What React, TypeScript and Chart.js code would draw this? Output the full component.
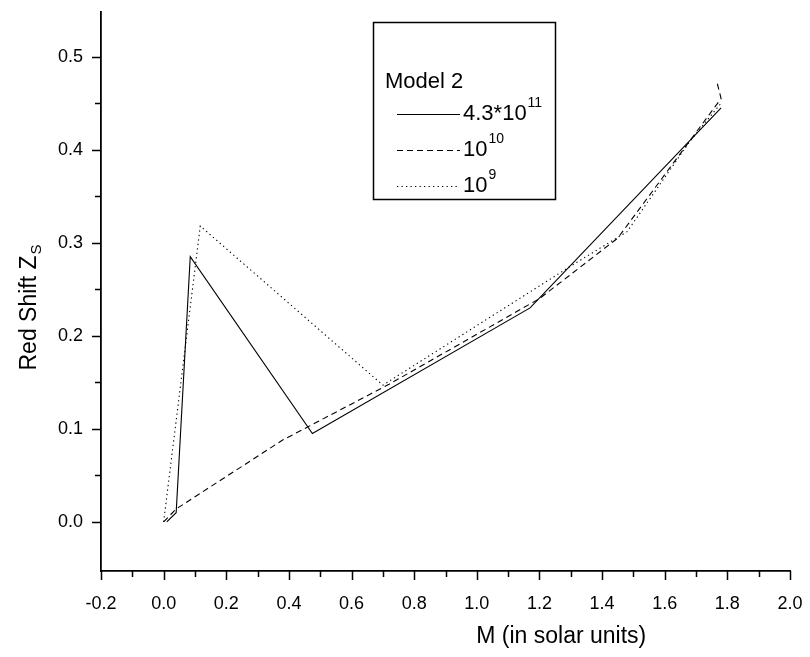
import React, { useEffect, useRef } from "react";
import { Chart, registerables } from "chart.js";

Chart.register(...registerables);

// Mass (solar units) against surface red shift for three central densities
const solidX = [0.01, 0.04, 0.085, 0.475, 1.17, 1.78];
const solidY = [0.0, 0.01, 0.285, 0.095, 0.23, 0.445];

const dashedX = [0.0, 0.04, 0.38, 0.72, 1.2, 1.45, 1.78, 1.765];
const dashedY = [0.0, 0.014, 0.088, 0.148, 0.24, 0.305, 0.455, 0.475];

const dottedX = [0.0, 0.117, 0.7, 1.3, 1.48, 1.68, 1.78];
const dottedY = [0.0, 0.318, 0.147, 0.275, 0.312, 0.409, 0.45];

const xTicks = [-0.2, 0.0, 0.2, 0.4, 0.6, 0.8, 1.0, 1.2, 1.4, 1.6, 1.8, 2.0];
const xMinorTicks = [-0.1, 0.1, 0.3, 0.5, 0.7, 0.9, 1.1, 1.3, 1.5, 1.7, 1.9];
const yTicks = [0.0, 0.1, 0.2, 0.3, 0.4, 0.5];
const yMinorTicks = [0.05, 0.15, 0.25, 0.35, 0.45];

const legendTitle = "Model 2";
const legendBases = ["4.3*10", "10", "10"];
const legendExps = ["11", "10", "9"];

const FONT = "'Liberation Sans', Arial, sans-serif";
const SOLID: number[] = [];
const DASHED = [6, 4];
const DOTTED = [1.3, 3.2];
const dashes = [SOLID, DASHED, DOTTED];

const toPoints = (xs: number[], ys: number[]) => xs.map((x, i) => ({ x, y: ys[i] }));

// keep the plot frame fixed: no extra room reserved for overhanging tick labels
const clearPadding = (s: any) => {
  s.paddingLeft = 0;
  s.paddingRight = 0;
  s.paddingTop = 0;
  s.paddingBottom = 0;
};

const decorPlugin = {
  id: "decor",
  afterDraw(chart: any) {
    const ctx = chart.ctx as CanvasRenderingContext2D;
    const xs = chart.scales.x;
    const ys = chart.scales.y;
    const area = chart.chartArea;
    ctx.save();
    ctx.strokeStyle = "#000";
    ctx.fillStyle = "#000";
    ctx.lineWidth = 1.5;

    // outward tick marks, major and minor
    const bottom = area.bottom;
    const left = area.left;
    ctx.beginPath();
    xTicks.forEach((v) => {
      const p = Math.round(xs.getPixelForValue(v)) + 0.5;
      ctx.moveTo(p, bottom);
      ctx.lineTo(p, bottom + 9);
    });
    xMinorTicks.forEach((v) => {
      const p = Math.round(xs.getPixelForValue(v)) + 0.5;
      ctx.moveTo(p, bottom);
      ctx.lineTo(p, bottom + 6);
    });
    yTicks.forEach((v) => {
      const p = Math.round(ys.getPixelForValue(v)) + 0.5;
      ctx.moveTo(left, p);
      ctx.lineTo(left - 9, p);
    });
    yMinorTicks.forEach((v) => {
      const p = Math.round(ys.getPixelForValue(v)) + 0.5;
      ctx.moveTo(left, p);
      ctx.lineTo(left - 6, p);
    });
    ctx.stroke();

    // x axis title
    ctx.font = `23px ${FONT}`;
    ctx.textAlign = "center";
    ctx.textBaseline = "middle";
    ctx.fillText("M (in solar units)", area.left + 0.668 * (area.right - area.left), 637);

    // y axis title with subscript
    ctx.save();
    ctx.translate(30, 308);
    ctx.rotate(-Math.PI / 2);
    ctx.textBaseline = "middle";
    ctx.font = `23px ${FONT}`;
    const main = "Red Shift Z";
    const wMain = ctx.measureText(main).width;
    ctx.font = `15px ${FONT}`;
    const wSub = ctx.measureText("S").width;
    const start = -(wMain + wSub) / 2;
    ctx.font = `23px ${FONT}`;
    ctx.textAlign = "left";
    ctx.fillText(main, start, 0);
    ctx.font = `15px ${FONT}`;
    ctx.fillText("S", start + wMain + 1, 7);
    ctx.restore();

    // legend box
    const bx = 373, by = 22, bw = 182, bh = 177;
    ctx.lineWidth = 1.5;
    ctx.setLineDash([]);
    ctx.strokeRect(bx + 0.5, by + 0.5, bw, bh);
    ctx.textAlign = "left";
    ctx.textBaseline = "middle";
    ctx.font = `22px ${FONT}`;
    ctx.fillText(legendTitle, 385, 82);
    const rows = [114, 150, 186];
    rows.forEach((ry, i) => {
      ctx.lineWidth = 1;
      ctx.setLineDash(dashes[i]);
      ctx.beginPath();
      ctx.moveTo(397, ry + 0.5);
      ctx.lineTo(460, ry + 0.5);
      ctx.stroke();
      ctx.setLineDash([]);
      ctx.font = `22px ${FONT}`;
      ctx.fillText(legendBases[i], 463, ry);
      const w = ctx.measureText(legendBases[i]).width;
      ctx.font = `14px ${FONT}`;
      ctx.fillText(legendExps[i], 463 + w + 1, ry - 11);
    });
    ctx.restore();
  },
};

export default function App() {
  const canvasRef = useRef<HTMLCanvasElement | null>(null);

  useEffect(() => {
    if (!canvasRef.current) return;
    const lineSet = (label: string, xs: number[], ys: number[], dash: number[]) => ({
      label,
      data: toPoints(xs, ys),
      showLine: true,
      borderColor: "#000",
      borderWidth: 1.1,
      borderDash: dash,
      pointRadius: 0,
      fill: false,
      tension: 0,
    });
    const chart = new Chart(canvasRef.current, {
      type: "scatter",
      data: {
        datasets: [
          lineSet("4.3*10^11", solidX, solidY, SOLID),
          lineSet("10^10", dashedX, dashedY, DASHED),
          lineSet("10^9", dottedX, dottedY, DOTTED),
        ],
      },
      options: {
        animation: false,
        responsive: false,
        devicePixelRatio: 1,
        layout: { autoPadding: false, padding: { left: 0, top: 12, right: 20, bottom: 0 } },
        plugins: { legend: { display: false }, tooltip: { enabled: false } },
        scales: {
          x: {
            type: "linear",
            min: -0.2,
            max: 2.0,
            afterBuildTicks: (s: any) => {
              s.ticks = xTicks.map((value) => ({ value }));
            },
            afterFit: (s: any) => {
              s.height = 86;
              clearPadding(s);
            },
            grid: { display: false },
            border: { display: true, color: "#000", width: 1.8 },
            ticks: {
              padding: 14,
              color: "#000",
              font: { family: FONT, size: 18 },
              maxRotation: 0,
              autoSkip: false,
              callback: (v: any) => Number(v).toFixed(1),
            },
          },
          y: {
            type: "linear",
            min: -0.0527,
            max: 0.548,
            afterBuildTicks: (s: any) => {
              s.ticks = yTicks.map((value) => ({ value }));
            },
            afterFit: (s: any) => {
              s.width = 101;
              clearPadding(s);
            },
            grid: { display: false },
            border: { display: true, color: "#000", width: 1.8 },
            ticks: {
              padding: 10,
              color: "#000",
              font: { family: FONT, size: 18 },
              autoSkip: false,
              callback: (v: any) => Number(v).toFixed(1),
            },
          },
        },
      },
      plugins: [decorPlugin],
    });
    return () => chart.destroy();
  }, []);

  return (
    <div style={{ position: "fixed", left: 0, top: 0, width: 810, height: 657, background: "#fff" }}>
      <canvas ref={canvasRef} width={810} height={657} style={{ width: 810, height: 657 }} />
    </div>
  );
}
